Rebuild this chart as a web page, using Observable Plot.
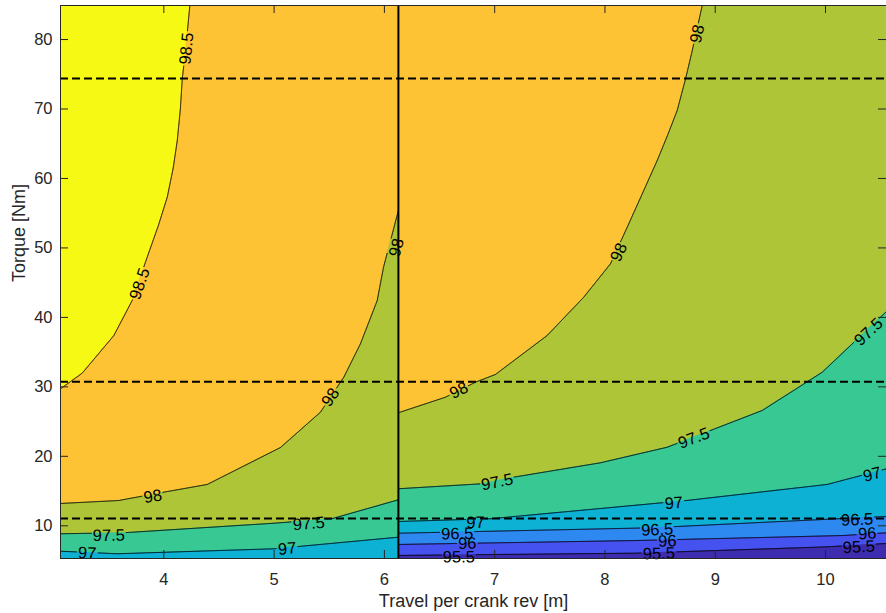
<!DOCTYPE html>
<html>
<head>
<meta charset="utf-8">
<script src="https://cdn.jsdelivr.net/npm/d3@7"></script>
<script src="https://cdn.jsdelivr.net/npm/@observablehq/plot@0.6"></script>
<style>
  body { margin: 0; background: #fff; }
  #chart svg { display: block; }
</style>
</head>
<body>
<div id="chart"></div>
<script>
// ---- axis extents / reference lines ----
const X_MIN = 3.063, X_MAX = 10.553, X_SPLIT = 6.127;
const Y_MIN = 5.29, Y_MAX = 84.9;
const xTicks = [4, 5, 6, 7, 8, 9, 10];
const yTicks = [10, 20, 30, 40, 50, 60, 70, 80];
const dashedLevels = [74.39, 30.73, 11.05];
const xLabel = "Travel per crank rev [m]";
const yLabel = "Torque [Nm]";

// ---- contour levels and band colours (band i lies below levels[i]) ----
const levels = [95.5, 96, 96.5, 97, 97.5, 98, 98.5];
const bandColors = ["#3e2cae", "#4552ef", "#2d89f0", "#0db1d3", "#38c893", "#aec538", "#fec235", "#f5f914"];

// ---- contour lines, left region (travel, torque) ----
const left985 = [[3.063,29.72],[3.26,31.97],[3.547,37.39],[3.713,42.43],[3.849,48.66],[3.95,53.2],[4.031,57.3],[4.085,61.5],[4.122,65.46],[4.15,70.0],[4.167,74.34],[4.197,78.42],[4.236,84.9]];
const left98  = [[3.063,13.21],[3.592,13.64],[4.0,14.84],[4.394,15.95],[5.058,21.27],[5.42,26.35],[5.632,31.39],[5.783,36.2],[5.935,42.43],[5.992,47.22],[6.056,51.07],[6.127,55.39]];
const left975 = [[3.063,8.85],[3.64,9.0],[5.0,10.37],[5.52,11.0],[6.127,13.74]];
const left97  = [[3.063,6.34],[3.577,5.97],[5.0,6.69],[6.127,8.36]];

// ---- contour lines, right region ----
const right98  = [[6.127,26.27],[6.554,28.51],[6.826,30.67],[7.007,31.78],[7.476,37.39],[7.808,42.91],[8.05,47.71],[8.202,52.98],[8.352,58.27],[8.474,62.59],[8.57,66.3],[8.655,69.78],[8.731,74.34],[8.792,78.42],[8.882,84.9]];
const right975 = [[6.127,15.33],[6.887,16.05],[7.173,17.0],[7.96,19.07],[8.565,21.31],[9.426,26.6],[9.97,32.1],[10.553,40.85]];
const right97  = [[6.127,10.62],[6.96,11.01],[8.746,13.65],[10.015,15.95],[10.553,18.2]];
const right965 = [[6.127,8.93],[8.4,9.7],[10.1,11.0],[10.553,11.34]];
const right96  = [[6.127,7.31],[8.29,7.88],[10.165,8.6],[10.553,8.99]];
const right955 = [[6.127,5.73],[8.29,6.06],[9.985,6.95],[10.553,7.45]];

// ---- inline label positions ----
const labLeft985 = [[4.206,78.7],[3.782,44.84]];
const labLeft98  = [[6.11,50.05],[5.512,28.51],[3.9,14.22]];
const labLeft975 = [[5.315,10.29],[3.501,8.6]];
const labLeft97  = [[5.119,6.69],[3.305,6.06]];
const labRight98  = [[8.837,80.82],[8.126,49.38],[6.675,29.48]];
const labRight975 = [[7.023,16.28],[8.806,22.61],[10.39,37.9]];
const labRight97  = [[6.826,10.43],[8.625,13.25],[10.424,17.38]];
const labRight965 = [[6.66,8.85],[8.474,9.42],[10.287,10.86]];
const labRight96  = [[6.751,7.45],[8.565,7.78],[10.378,8.85]];
const labRight955 = [[6.675,5.48],[8.489,5.97],[10.302,6.92]];

const contours = [
  {level: 98.5, pts: left985,  labs: labLeft985,  x2: X_SPLIT},
  {level: 98,   pts: left98,   labs: labLeft98,   x2: X_SPLIT},
  {level: 97.5, pts: left975,  labs: labLeft975,  x2: X_SPLIT},
  {level: 97,   pts: left97,   labs: labLeft97,   x2: X_SPLIT},
  {level: 98,   pts: right98,  labs: labRight98,  x2: X_MAX},
  {level: 97.5, pts: right975, labs: labRight975, x2: X_MAX},
  {level: 97,   pts: right97,  labs: labRight97,  x2: X_MAX},
  {level: 96.5, pts: right965, labs: labRight965, x2: X_MAX},
  {level: 96,   pts: right96,  labs: labRight96,  x2: X_MAX},
  {level: 95.5, pts: right955, labs: labRight955, x2: X_MAX}
];

// ---- layout ----
const W = 886, H = 613, mL = 60, mR = 0, mT = 5, mB = 55;
const plotW = W - mL - mR, plotH = H - mT - mB;
const LABEL_FS = 16.5, TICK_FS = 16.5, TITLE_FS = 18;
const FONT = "'Liberation Sans', Arial, Helvetica, sans-serif";
const AXIS_COLOR = "#262626";

// same mapping Plot uses, for label gaps and orientation
const xs = d3.scaleLinear([X_MIN, X_MAX], [mL, W - mR]);
const ys = d3.scaleLinear([Y_MIN, Y_MAX], [H - mB, mT]);

function textWidth(t) {
  let w = 0;
  for (const c of t) w += (c === ".") ? 0.278 : 0.556;
  return w * LABEL_FS;
}

function buildLine(pts, labs, txt) {
  const r = textWidth(txt) / 2 + 1.5;
  const P = pts.map(([x, y]) => [xs(x), ys(y)]);
  const L = labs.map(([x, y]) => [xs(x), ys(y)]);
  const out = [];
  let gap = false;
  for (let i = 0; i < P.length - 1; i++) {
    const [x0, y0] = P[i], [x1, y1] = P[i + 1];
    const n = Math.max(1, Math.ceil(Math.hypot(x1 - x0, y1 - y0) / 0.5));
    for (let k = (i === 0 ? 0 : 1); k <= n; k++) {
      const t = k / n, px = x0 + (x1 - x0) * t, py = y0 + (y1 - y0) * t;
      const hidden = L.some(([lx, ly]) => Math.hypot(px - lx, py - ly) < r);
      if (hidden) {
        if (!gap) { out.push({x: NaN, y: NaN}); gap = true; }
      } else {
        out.push({x: xs.invert(px), y: ys.invert(py)});
        gap = false;
      }
    }
  }
  return out;
}

function labelAngle(pts, lab) {
  const P = pts.map(([x, y]) => [xs(x), ys(y)]);
  const [lx, ly] = [xs(lab[0]), ys(lab[1])];
  let best = Infinity, ang = 0;
  for (let i = 0; i < P.length - 1; i++) {
    const [x0, y0] = P[i], [x1, y1] = P[i + 1];
    const dx = x1 - x0, dy = y1 - y0, len2 = dx * dx + dy * dy;
    let t = len2 ? ((lx - x0) * dx + (ly - y0) * dy) / len2 : 0;
    t = Math.max(0, Math.min(1, t));
    const d = Math.hypot(lx - (x0 + t * dx), ly - (y0 + t * dy));
    if (d < best) { best = d; ang = Math.atan2(dy, dx) * 180 / Math.PI; }
  }
  if (ang > 90) ang -= 180;
  if (ang < -90) ang += 180;
  return ang;
}

const fillMarks = [];
const lineMarks = [];
const labelData = [];
for (const c of contours) {
  const txt = String(c.level);
  const fillPts = c.pts.slice();
  const last = fillPts[fillPts.length - 1];
  if (last[1] >= Y_MAX - 0.01 && last[0] < c.x2) fillPts.push([c.x2, Y_MAX]);
  fillMarks.push(Plot.areaY(fillPts, {
    x: d => d[0], y1: Y_MIN, y2: d => d[1],
    fill: bandColors[levels.indexOf(c.level)], curve: "linear"
  }));
  lineMarks.push(Plot.line(buildLine(c.pts, c.labs, txt), {
    x: "x", y: "y", stroke: "black", strokeWidth: 1, curve: "linear"
  }));
  for (const l of c.labs) {
    labelData.push({x: l[0], y: l[1], text: txt, rotate: labelAngle(c.pts, l)});
  }
}

const chart = Plot.plot({
  width: W, height: H,
  marginLeft: mL, marginRight: mR, marginTop: mT, marginBottom: mB,
  x: {domain: [X_MIN, X_MAX]},
  y: {domain: [Y_MIN, Y_MAX]},
  style: {fontFamily: FONT, background: "#fff"},
  marks: [
    // region backgrounds (highest band of each region)
    Plot.rect([0], {x1: X_MIN, x2: X_SPLIT, y1: Y_MIN, y2: Y_MAX, fill: bandColors[7]}),
    Plot.rect([0], {x1: X_SPLIT, x2: X_MAX, y1: Y_MIN, y2: Y_MAX, fill: bandColors[6]}),
    ...fillMarks,
    ...lineMarks,
    Plot.text(labelData, {
      x: "x", y: "y", text: "text", rotate: "rotate",
      fontSize: LABEL_FS, fill: "black", textAnchor: "middle", lineAnchor: "middle"
    }),
    Plot.ruleY(dashedLevels, {y: d => d, stroke: "black", strokeWidth: 2, strokeDasharray: "8,4"}),
    Plot.ruleX([X_SPLIT], {x: d => d, stroke: "black", strokeWidth: 2}),
    // box
    Plot.ruleX([X_MIN], {x: d => d, stroke: AXIS_COLOR, strokeWidth: 1}),
    Plot.ruleY([Y_MIN, Y_MAX], {y: d => d, stroke: AXIS_COLOR, strokeWidth: 1}),
    // inward ticks
    Plot.tickX(xTicks, {x: d => d, stroke: AXIS_COLOR, insetTop: plotH - 8}),
    Plot.tickX(xTicks, {x: d => d, stroke: AXIS_COLOR, insetBottom: plotH - 8}),
    Plot.tickY(yTicks, {y: d => d, stroke: AXIS_COLOR, insetRight: plotW - 8}),
    Plot.tickY(yTicks, {y: d => d, stroke: AXIS_COLOR, insetLeft: plotW - 8}),
    // tick labels
    Plot.axisX({ticks: xTicks, anchor: "bottom", tickSize: 0, tickPadding: 15, fontSize: TICK_FS, color: AXIS_COLOR, label: null}),
    Plot.axisY({ticks: yTicks, anchor: "left", tickSize: 0, tickPadding: 8, fontSize: TICK_FS, color: AXIS_COLOR, label: null}),
    // axis titles
    Plot.text([xLabel], {text: d => d, frameAnchor: "bottom", dy: 43, fontSize: TITLE_FS, fill: AXIS_COLOR, lineAnchor: "middle"}),
    Plot.text([yLabel], {text: d => d, frameAnchor: "left", dx: -41, rotate: -90, fontSize: TITLE_FS, fill: AXIS_COLOR, lineAnchor: "middle"})
  ]
});
document.getElementById("chart").appendChild(chart);
</script>
</body>
</html>
